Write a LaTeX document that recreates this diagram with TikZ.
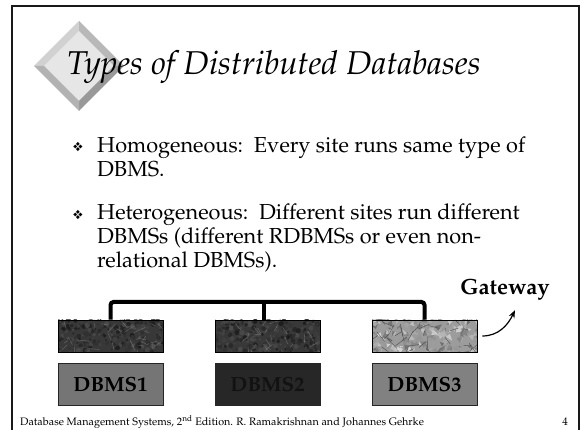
\documentclass[tikz,border=0pt]{standalone}
\usepackage[T1]{fontenc}
\usepackage{mathpazo}
\usepackage{pifont}
\usepackage{tikz}
\usetikzlibrary{arrows.meta,positioning}

\definecolor{granitebase}{HTML}{383838}
\definecolor{paperbase}{HTML}{9C9C9C}
\definecolor{dbmsone}{HTML}{757575}
\definecolor{dbmstwo}{HTML}{272727}
\definecolor{dbmstwotext}{HTML}{121212}
\definecolor{dbmsthree}{HTML}{818181}
\definecolor{bevelface}{HTML}{E6E6E6}

\tikzset{
    frame/.style={draw=black!90, line width=2.5pt},
    stone/.style={draw=black, line width=0.8pt, minimum width=105pt, minimum height=32pt, inner sep=0pt},
    dbms/.style={draw=black!85, line width=0.6pt, minimum width=105pt, minimum height=42pt,
        font=\bfseries\fontsize{20.5}{22}\selectfont},
    bus/.style={draw, line width=4pt, rounded corners=3pt},
    body/.style={anchor=base west, align=left, inner sep=0pt, font=\fontsize{21.7}{24}\selectfont},
    bullet/.style={anchor=base, font=\fontsize{13}{14}\selectfont, inner sep=0pt},
    gatearrow/.style={draw, line width=1.2pt, -{Stealth[length=8pt,width=6pt]}}
}

% marbled stone texture, top-left corner at (#1,#2)
\newcommand{\granitepatch}[2]{%
  \fill[granitebase] (#1,#2) rectangle ++(105,32);
  \begin{scope}
    \clip (#1,#2) rectangle ++(105,32);
    \foreach \k in {1,...,300}{
      \pgfmathsetmacro{\gx}{#1+105*rnd}
      \pgfmathsetmacro{\gy}{#2+32*rnd}
      \pgfmathsetmacro{\gt}{int(8+26*rnd)}
      \pgfmathsetmacro{\gr}{0.8+2.0*rnd}
      \fill[white!\gt!black, opacity=0.7] (\gx,\gy) circle[radius=\gr pt];
    }
    \foreach \k in {1,...,30}{
      \pgfmathsetmacro{\gx}{#1+105*rnd}
      \pgfmathsetmacro{\gy}{#2+32*rnd}
      \pgfmathsetmacro{\ga}{360*rnd}
      \pgfmathsetmacro{\gl}{4+8*rnd}
      \draw[white!55!black, line width=0.4pt, opacity=0.6] (\gx,\gy) -- ++(\ga:\gl);
    }
  \end{scope}}

% crumpled paper texture, top-left corner at (#1,#2)
\newcommand{\paperpatch}[2]{%
  \fill[paperbase] (#1,#2) rectangle ++(105,32);
  \begin{scope}
    \clip (#1,#2) rectangle ++(105,32);
    \foreach \k in {1,...,220}{
      \pgfmathsetmacro{\cx}{#1-4+113*rnd}
      \pgfmathsetmacro{\cy}{#2-4+40*rnd}
      \pgfmathsetmacro{\ct}{int(40+50*rnd)}
      \pgfmathsetmacro{\ua}{360*rnd}
      \pgfmathsetmacro{\ub}{\ua+90+90*rnd}
      \pgfmathsetmacro{\ul}{3+5*rnd}
      \fill[white!\ct!black, opacity=0.85] (\cx,\cy) -- ++(\ua:\ul) -- ++(\ub:\ul) -- cycle;
    }
    \foreach \k in {1,...,35}{
      \pgfmathsetmacro{\cx}{#1+105*rnd}
      \pgfmathsetmacro{\cy}{#2+32*rnd}
      \pgfmathsetmacro{\ca}{360*rnd}
      \pgfmathsetmacro{\cl}{5+10*rnd}
      \draw[black!70, line width=0.4pt] (\cx,\cy) -- ++(\ca:\cl);
    }
  \end{scope}}

\begin{document}
\begin{tikzpicture}[x=1pt, y=-1pt]
    \useasboundingbox (0,0) rectangle (581,430);
    \pgfmathsetseed{11}

    % slide frame
    \draw[frame] (12,430) |- (579,6) -- (579,430);

    % bevelled diamond behind the title
    \fill[bevelface] (79,31) -- (114,66) -- (79,101) -- (44,66) -- cycle;
    \fill[black!18] (34,66) -- (79,21) -- (79,31) -- (44,66) -- cycle;
    \fill[black!28] (79,21) -- (124,66) -- (114,66) -- (79,31) -- cycle;
    \fill[black!40] (124,66) -- (79,111) -- (79,101) -- (114,66) -- cycle;
    \fill[black!30] (79,111) -- (34,66) -- (44,66) -- (79,101) -- cycle;

    % title
    \node[anchor=base west, inner sep=0pt, font=\itshape\fontsize{33}{36}\selectfont] (title) at (67,75)
        {Types of Distributed Databases};

    % bullet points (text nodes sit on the baseline of their last line)
    \node[bullet] (b1) at (78,152) {\ding{118}};
    \node[bullet] (b2) at (78,220) {\ding{118}};
    \node[body] (homo) at (97,177)
        {Homogeneous:\ \ Every site runs same type of\\DBMS.};
    \node[body] (hetero) at (97,268)
        {Heterogeneous:\ \ Different sites run different\\DBMSs (different RDBMSs or even non-\\relational DBMSs).};

    % textured site boxes
    \granitepatch{58}{320}
    \granitepatch{215}{320}
    \paperpatch{372}{320}
    \node[stone] (s1) at (110.5,336) {};
    \node[stone] (s2) at (267.5,336) {};
    \node[stone] (s3) at (424.5,336) {};

    % DBMS boxes
    \node[dbms, fill=dbmsone] (d1) at (110.5,384) {DBMS1};
    \node[dbms, fill=dbmstwo, text=dbmstwotext] (d2) at (267.5,384) {DBMS2};
    \node[dbms, fill=dbmsthree] (d3) at (424.5,384) {DBMS3};

    % network bus
    \coordinate (busline) at (0,302);
    \draw[bus] (s1.north) |- (s3.north |- busline) -- (s3.north);
    \draw[bus] ([xshift=-4pt]s2.north) -- ([xshift=-4pt]s2.north |- busline);

    % gateway label
    \node[font=\bfseries\fontsize{22}{24}\selectfont] (gw) at (505,290) {Gateway};
    \draw[gatearrow] ([xshift=5pt]s3.east) to[out=0, in=-115] ([xshift=10pt, yshift=-6pt]gw.south);

    % footer
    \node[anchor=base west, inner sep=0pt, font=\fontsize{10.8}{12}\selectfont] (foot) at (20,425)
        {Database Management Systems, 2\textsuperscript{nd} Edition. R. Ramakrishnan and Johannes Gehrke};
    \node[anchor=base, inner sep=0pt, font=\fontsize{11}{12}\selectfont] (page) at (565,425) {4};
\end{tikzpicture}
\end{document}
